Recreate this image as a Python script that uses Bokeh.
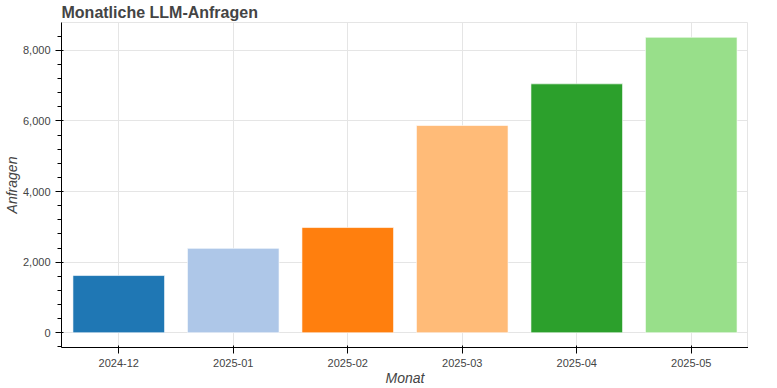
from bokeh.plotting import figure
from bokeh.models import ColumnDataSource, NumeralTickFormatter
from bokeh.embed import file_html
from bokeh.resources import INLINE

months = ["2024-12", "2025-01", "2025-02", "2025-03", "2025-04", "2025-05"]
requests = [1620, 2390, 2980, 5870, 7050, 8370]
colors = ["#1f77b4", "#aec7e8", "#ff7f0e", "#ffbb78", "#2ca02c", "#98df8a"]

source = ColumnDataSource(data=dict(month=months, requests=requests, color=colors))

FONT = "Liberation Sans"

p = figure(x_range=months, width=748, height=388, title="Monatliche LLM-Anfragen",
           output_backend="svg", toolbar_location=None, min_border=0)
p.vbar(x="month", top="requests", width=0.8, source=source,
       fill_color="color", line_color="white", line_alpha=0.6)

p.title.text_font_size = "16px"
p.title.text_font = FONT
p.title.standoff = 3
p.xaxis.axis_label = "Monat"
p.yaxis.axis_label = "Anfragen"
p.yaxis.formatter = NumeralTickFormatter(format="0,0")
for ax in (p.xaxis, p.yaxis):
    ax.axis_label_text_font = FONT
    ax.axis_label_text_font_size = "14px"
    ax.axis_label_standoff = 0
    ax.major_label_text_font = FONT
    ax.major_label_text_font_size = "11px"

open("out.html", "w").write(file_html(p, INLINE))
